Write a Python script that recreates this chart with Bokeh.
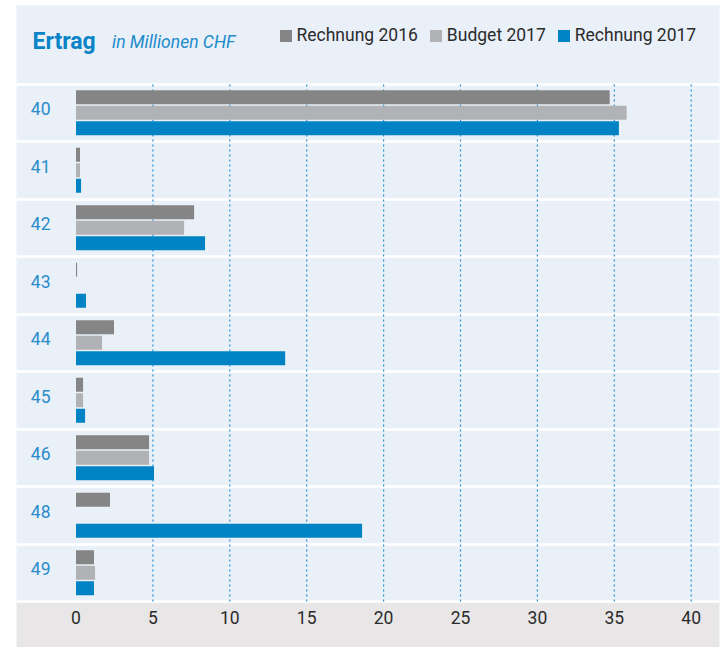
from bokeh.plotting import figure
from bokeh.models import (ColumnDataSource, LinearAxis, FixedTicker, Grid, BoxAnnotation,
                          Legend, LegendItem, Label, Range1d)
from bokeh.transform import dodge
from bokeh.embed import file_html
from bokeh.resources import INLINE

# ---- data ----
categories = ["40", "41", "42", "43", "44", "45", "46", "48", "49"]
rechnung_2016 = [34.7, 0.26, 7.68, 0.07, 2.47, 0.46, 4.75, 2.21, 1.17]
budget_2017 = [35.8, 0.26, 7.03, 0.0, 1.69, 0.46, 4.75, 0.0, 1.24]
rechnung_2017 = [35.3, 0.33, 8.39, 0.65, 13.6, 0.59, 5.07, 18.6, 1.17]
x_ticks = [0, 5, 10, 15, 20, 25, 30, 35, 40]
series_names = ["Rechnung 2016", "Budget 2017", "Rechnung 2017"]
title_text = "Ertrag"
unit_text = "in Millionen CHF"

# ---- layout constants (pixels) ----
W, H = 721, 647
F_LEFT, F_RIGHT, F_TOP, F_BOTTOM = 16, 719, 5, 647
X0_PX, PX_PER_UNIT = 75.5, 15.38
BAND_PX, BAND_BOTTOM_PX = 57.5, 601.0

x_start = (F_LEFT - X0_PX) / PX_PER_UNIT
x_end = (F_RIGHT - X0_PX) / PX_PER_UNIT
y_start = -0.5 - (F_BOTTOM - BAND_BOTTOM_PX) / BAND_PX
y_end = -0.5 + (BAND_BOTTOM_PX - F_TOP) / BAND_PX

n = len(categories)
pos = [n - 1 - i for i in range(n)]

BLUE = "#0083C4"
DGRAY = "#858585"
LGRAY = "#B1B2B5"
BG = "#E9F0F8"
FONT = "Roboto"

p = figure(width=W, height=H, x_range=Range1d(x_start, x_end), y_range=Range1d(y_start, y_end),
           x_axis_type=None, y_axis_type=None, toolbar_location=None, output_backend="svg",
           min_border_left=F_LEFT, min_border_right=W - F_RIGHT, min_border_top=F_TOP,
           min_border_bottom=H - F_BOTTOM, background_fill_color=BG, border_fill_color="white",
           outline_line_color=None)

# bottom gray axis area
p.add_layout(BoxAnnotation(top=-0.5 - 1.2 / BAND_PX, fill_color="#E8E6E7", fill_alpha=1,
                           line_color=None, level="underlay"))

# white band separators
p.add_layout(Grid(dimension=1, ticker=FixedTicker(ticks=[k + 0.5 for k in range(-1, n)]),
                  grid_line_color="white", grid_line_width=2.5))

# dotted vertical lines
vsrc = ColumnDataSource(dict(x=x_ticks[1:], y0=[-0.5] * (len(x_ticks) - 1), y1=[n - 0.5] * (len(x_ticks) - 1)))
p.segment(x0="x", x1="x", y0="y0", y1="y1", source=vsrc, line_color="#2A8FD2",
          line_width=1.2, line_dash="2 3")

src = ColumnDataSource(dict(pos=pos, r16=rechnung_2016, b17=budget_2017, r17=rechnung_2017))
OFF, BH = 0.27, 0.245
r1 = p.hbar(y=dodge("pos", OFF, range=p.y_range), left=0, right="r16", height=BH, source=src,
            fill_color=DGRAY, line_color=None)
r2 = p.hbar(y="pos", left=0, right="b17", height=BH, source=src,
            fill_color=LGRAY, line_color=None)
r3 = p.hbar(y=dodge("pos", -OFF, range=p.y_range), left=0, right="r17", height=BH, source=src,
            fill_color=BLUE, line_color=None)

# x axis
xaxis = LinearAxis(ticker=FixedTicker(ticks=x_ticks), fixed_location=-0.5,
                   axis_line_color=None, major_tick_line_color=None, minor_tick_line_color=None,
                   major_tick_out=0, major_label_standoff=9,
                   major_label_text_font=FONT, major_label_text_font_size="17.5px",
                   major_label_text_color="#2B2B2B")
p.add_layout(xaxis, "below")

# y axis (category labels)
LAB_OFF = 0.07
label_pos = [q + LAB_OFF for q in pos]
yaxis = LinearAxis(ticker=FixedTicker(ticks=label_pos),
                   major_label_overrides={lp: c for lp, c in zip(label_pos, categories)},
                   fixed_location=(50 - X0_PX) / PX_PER_UNIT,
                   axis_line_color=None, major_tick_line_color=None, minor_tick_line_color=None,
                   major_tick_out=0, major_label_standoff=0,
                   major_label_text_font=FONT, major_label_text_font_size="17.5px",
                   major_label_text_color="#2A8CCB")
p.add_layout(yaxis, "left")

legend = Legend(items=[LegendItem(label=s, renderers=[r]) for s, r in zip(series_names, [r1, r2, r3])],
                orientation="horizontal", location=(261.5, 602), padding=0, spacing=10,
                label_standoff=4, glyph_width=15, glyph_height=15,
                label_text_font=FONT, label_text_font_size="17.5px", label_text_color="#2B2B2B",
                background_fill_alpha=0, border_line_alpha=0, margin=0)
p.add_layout(legend)

p.add_layout(Label(x=16, y=606, x_units="screen", y_units="screen", text=title_text,
                   text_font=FONT, text_font_style="bold", text_font_size="23px",
                   text_color="#0A84C6", text_baseline="alphabetic"))
p.add_layout(Label(x=95.5, y=606, x_units="screen", y_units="screen", text=unit_text,
                   text_font=FONT, text_font_style="italic", text_font_size="17.5px",
                   text_color="#1E8BCB", text_baseline="alphabetic"))

open("out.html", "w").write(file_html(p, INLINE))
